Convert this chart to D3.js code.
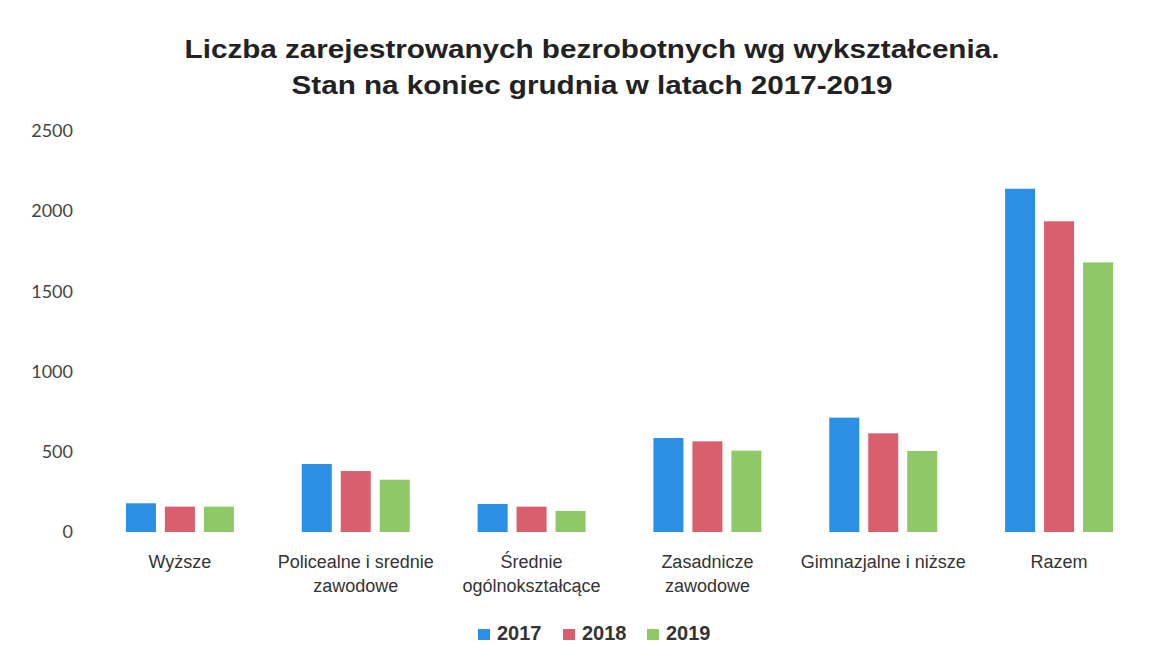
<!DOCTYPE html>
<html>
<head>
<meta charset="utf-8">
<script src="https://cdn.jsdelivr.net/npm/d3@7"></script>
<style>
  body { margin: 0; background: #fff; }
</style>
</head>
<body>
<script>
// kategorie wykształcenia (etykiety osi X, linie łamane)
var kategorie = ["Wyższe", "Policealne i srednie zawodowe", "Średnie ogólnokształcące",
                 "Zasadnicze zawodowe", "Gimnazjalne i niższe", "Razem"]
var etykiety = [["Wyższe"], ["Policealne i srednie", "zawodowe"], ["Średnie", "ogólnokształcące"],
                ["Zasadnicze", "zawodowe"], ["Gimnazjalne i niższe"], ["Razem"]]
var lata = ["2017", "2018", "2019"]
var wartosci2017 = [179, 424, 175, 586, 713, 2140]
var wartosci2018 = [158, 380, 158, 565, 615, 1937]
var wartosci2019 = [158, 326, 131, 507, 505, 1681]
var ticksY = [0, 500, 1000, 1500, 2000, 2500]
var kolory = ["#2b8fe3", "#d95f6e", "#8fc866"]

var width = 1168
var height = 645
var margin = { top: 131, bottom: 113, left: 92, right: 21 }

var serie = [wartosci2017, wartosci2018, wartosci2019]
var datos = kategorie.map(function(k, i) {
    return { kat: k, lab: etykiety[i], vals: lata.map(function(r, j) { return { rok: r, v: serie[j][i] } }) }
})

var svg = d3.select("body").append("svg")
    .attr("width", width)
    .attr("height", height)

var escalaX = d3.scaleBand()
    .domain(kategorie)
    .range([margin.left, width - margin.right])
    .paddingInner(0.386)
    .paddingOuter(0.193)

var escalaX1 = d3.scaleBand()
    .domain(lata)
    .range([0, escalaX.bandwidth()])
    .paddingInner(0.23)

var escalaY = d3.scaleLinear()
    .domain([0, 2500])
    .range([height - margin.bottom, margin.top])

var color = d3.scaleOrdinal().domain(lata).range(kolory)

// tytuł (skan jest rozciągnięty w poziomie)
var tytul = svg.append("text")
    .attr("transform", "translate(592,0) scale(1.14,1)")
    .attr("y", 58)
    .attr("text-anchor", "middle")
    .style("font-family", "'Liberation Sans', Arial, sans-serif")
    .style("font-weight", "bold")
    .style("font-size", "26px")
    .style("fill", "#222")
tytul.append("tspan").attr("x", 0).text("Liczba zarejestrowanych bezrobotnych wg wykształcenia.")
tytul.append("tspan").attr("x", 0).attr("dy", 36).text("Stan na koniec grudnia w latach 2017-2019")

// oś Y (tylko etykiety)
var ejeY = d3.axisLeft(escalaY).tickValues(ticksY).tickFormat(d3.format("d")).tickSize(0).tickPadding(0)
svg.append("g")
    .attr("transform", "translate(73,0)")
    .call(ejeY)
    .call(function(g) { g.select(".domain").remove() })
    .selectAll("text")
    .style("font-family", "Lato, 'Open Sans', sans-serif")
    .style("font-size", "18px")
    .style("fill", "#444")

// słupki
var grupos = svg.append("g")
    .selectAll("g")
    .data(datos)
    .enter()
    .append("g")
    .attr("transform", function(d) { return "translate(" + escalaX(d.kat) + ",0)" })

grupos.selectAll("rect")
    .data(function(d) { return d.vals })
    .enter()
    .append("rect")
    .attr("x", function(d) { return escalaX1(d.rok) })
    .attr("y", function(d) { return escalaY(d.v) })
    .attr("width", escalaX1.bandwidth())
    .attr("height", function(d) { return escalaY(0) - escalaY(d.v) })
    .attr("fill", function(d) { return color(d.rok) })

// oś X (etykiety kategorii)
var ejeX = svg.append("g")
ejeX.selectAll("text")
    .data(datos)
    .enter()
    .append("text")
    .attr("x", function(d) { return escalaX(d.kat) + escalaX.bandwidth() / 2 })
    .attr("y", 568)
    .attr("text-anchor", "middle")
    .style("font-family", "'Liberation Sans Narrow', 'Arial Narrow', sans-serif")
    .style("font-size", "18px")
    .style("fill", "#333")
    .each(function(d) {
        var t = d3.select(this)
        d.lab.forEach(function(l, i) {
            t.append("tspan")
                .attr("x", escalaX(d.kat) + escalaX.bandwidth() / 2)
                .attr("dy", i == 0 ? 0 : 24)
                .text(l)
        })
    })

// legenda
var posLeyenda = [478, 563, 647]
var leyenda = svg.append("g")
    .selectAll("g")
    .data(lata)
    .enter()
    .append("g")
    .attr("transform", function(d, i) { return "translate(" + posLeyenda[i] + ",629)" })
leyenda.append("rect")
    .attr("width", 12)
    .attr("height", 11)
    .attr("fill", function(d) { return color(d) })
leyenda.append("text")
    .attr("x", 19)
    .attr("y", 11)
    .style("font-family", "'Liberation Sans', Arial, sans-serif")
    .style("font-weight", "bold")
    .style("font-size", "20px")
    .style("fill", "#333")
    .text(function(d) { return d })
</script>
</body>
</html>
